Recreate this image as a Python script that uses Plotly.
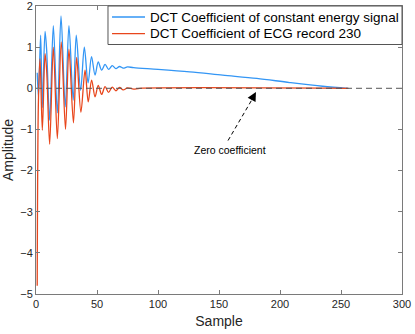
import plotly.graph_objects as go

# DCT coefficients (extrema + tail points), sample index on x
blue_x = [1, 2, 3.8, 5.2, 7.4, 8.7, 11.2, 14.2, 17.5, 20.5, 24, 27, 30.5, 33, 36.6, 39.6,
          42.7, 45.5, 48.4, 51, 53.8, 56.6, 59.5, 62.5, 65.5, 68.5, 71.5, 75, 80,
          100, 126, 153, 181, 208, 235, 256]
blue_y = [0.38, -0.2, 1.29, -0.47, 1.38, 0.95, -0.78, 1.52, -0.6, 1.76, -0.45, 1.52, -0.29, 1.29, -0.05, 1.0,
          0.13, 0.77, 0.32, 0.64, 0.44, 0.58, 0.46, 0.55, 0.48, 0.53, 0.49, 0.52, 0.5,
          0.46, 0.40, 0.32, 0.24, 0.14, 0.05, 0.0]

red_x = [1, 2, 3.3, 5.2, 7.4, 8.7, 11.2, 14.2, 17.5, 20.7, 24.2, 27, 30.7, 33.3, 36.8, 40.2,
         42.8, 45.6, 48.4, 51, 53.8, 56.6, 59.5, 62.5, 65.5, 68.5, 71.5, 75, 80, 85, 256]
red_y = [-4.8, -0.3, 0.72, -1.02, 0.84, 0.45, -1.36, 1.0, -1.22, 1.13, -1.0, 0.95, -0.84, 0.75, -0.58, 0.44,
         -0.33, 0.2, -0.21, 0.07, -0.15, 0.04, -0.1, 0.03, -0.06, 0.02, -0.04, 0.01, -0.02, 0.0, 0.0]

zero_x = [0, 300]
zero_y = [0, 0]

names = ["DCT Coefficient of constant energy signal", "DCT Coefficient of ECG record 230"]

blue = "#3396f5"
red = "#e8461c"
axis_col = "#7a7a7a"
text_col = "#262626"
font = "Liberation Sans, Arial, sans-serif"

fig = go.Figure()
fig.add_trace(go.Scatter(x=blue_x, y=blue_y, mode="lines", name=names[0], showlegend=False,
                         line=dict(color=blue, width=1.3, shape="spline", smoothing=0.9)))
fig.add_trace(go.Scatter(x=red_x, y=red_y, mode="lines", name=names[1], showlegend=False,
                         line=dict(color=red, width=1.3, shape="spline", smoothing=0.9)))
fig.add_trace(go.Scatter(x=zero_x, y=zero_y, mode="lines", showlegend=False,
                         line=dict(color="#555555", width=1, dash="6px,4px")))

# dashed arrow to the zero coefficients
fig.add_shape(type="line", x0=157.4, y0=-1.27, x1=178.5, y1=-0.2,
              line=dict(color="black", width=1, dash="4px,3px"))
fig.add_annotation(x=180.3, y=-0.09, ax=-5, ay=9, showarrow=True,
                   arrowhead=2, arrowsize=1.8, arrowwidth=1, arrowcolor="black", text="")
fig.add_annotation(x=159, y=-1.49, text="Zero coefficient", showarrow=False,
                   font=dict(size=10.5, color="black", family=font))

# matlab-style legend box (compact rows)
fig.add_shape(type="rect", xref="paper", yref="paper", x0=0.1967, x1=1.0, y0=0.8663, y1=1.0,
              line=dict(color="#555555", width=1), fillcolor="white", layer="above")
for i, (nm, col) in enumerate(zip(names, [blue, red])):
    ly = 0.9618 - i * 0.058
    fig.add_shape(type="line", xref="paper", yref="paper", x0=0.2077, x1=0.2978, y0=ly, y1=ly,
                  line=dict(color=col, width=1.3), layer="above")
    fig.add_annotation(xref="paper", yref="paper", x=0.306, y=ly, text=nm, showarrow=False,
                       xanchor="left", yanchor="middle",
                       font=dict(size=13.5, color="black", family=font))

fig.update_xaxes(range=[0, 300], dtick=50, ticks="inside", ticklen=4, tickcolor=axis_col,
                 showline=True, linecolor=axis_col, linewidth=1, mirror="ticks",
                 showgrid=False, zeroline=False, automargin=False, ticklabeloverflow="allow",
                 tickfont=dict(size=11, color=text_col),
                 title=dict(text="Sample", font=dict(size=14, color=text_col), standoff=6))
fig.update_yaxes(range=[-5, 2], dtick=1, ticks="inside", ticklen=4, tickcolor=axis_col,
                 showline=True, linecolor=axis_col, linewidth=1, mirror="ticks",
                 showgrid=False, zeroline=False, automargin=False, ticklabeloverflow="allow",
                 tickfont=dict(size=11, color=text_col),
                 title=dict(text="Amplitude", font=dict(size=14, color=text_col), standoff=8))

fig.update_layout(
    width=415, height=334,
    margin=dict(l=36, r=13, t=6, b=40),
    plot_bgcolor="white", paper_bgcolor="white",
    font=dict(family=font, color=text_col),
    showlegend=False,
)

fig.write_html("out.html", config={"displayModeBar": False},
               post_script="document.body.style.margin='0';")
